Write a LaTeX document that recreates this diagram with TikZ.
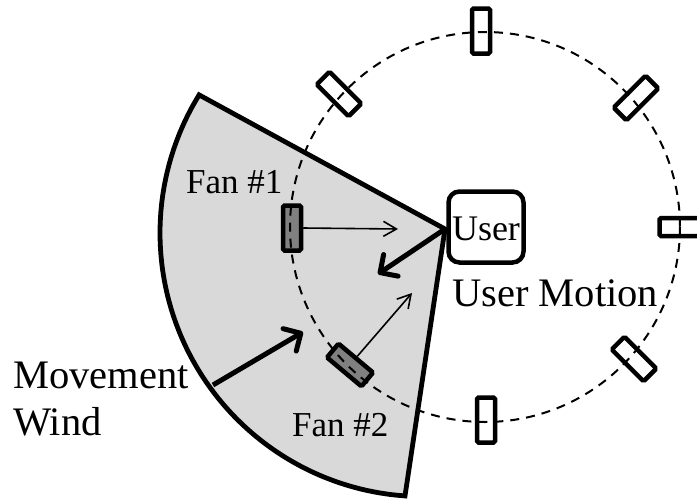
\documentclass[tikz,border=0pt]{standalone}
\usepackage{fontspec}
\setmainfont{Liberation Serif}
\usetikzlibrary{arrows.meta}
\definecolor{sectorgray}{HTML}{D9D9D9}
\definecolor{fangray}{HTML}{808080}
\tikzset{
  fan/.style={draw=black,line width=4.5pt,fill=white,rounded corners=1.5pt,minimum width=45pt,minimum height=18pt,inner sep=0pt},
  activefan/.style={fan,fill=fangray},
  thinarrow/.style={line width=1.6pt,-{Straight Barb[length=13pt,width=15pt,line width=1.6pt]}},
  thickarrow/.style={line width=5pt,-{Straight Barb[length=13pt,width=26pt,line width=5pt,round]}},
  label/.style={inner sep=0pt,anchor=base west,text=black}
}
\begin{document}
\begin{tikzpicture}[x=1pt,y=-1pt]
\useasboundingbox (0,0) rectangle (697,499);
\clip (0,0) rectangle (697,499);
\coordinate (apex) at (445,229);
\draw[line width=4.8pt,fill=sectorgray,line join=miter]
  (apex) -- plot[smooth,domain=211.6:94.05,samples=40] ({423.6+263.6*cos(\x)},{233+263.6*sin(\x)}) -- cycle;
\node[fan,rotate=90] (ftop) at (481,31) {};
\node[fan,rotate=45] (fne) at (636,98) {};
\node[fan] (fright) at (682,227) {};
\node[fan,rotate=-45] (fse) at (634,359) {};
\node[fan,rotate=90] (fbot) at (486,420) {};
\node[activefan,rotate=-40] (ftwo) at (350,365) {};
\node[activefan,rotate=90] (fone) at (292,228) {};
\node[fan,rotate=-45] (fnw) at (339,94) {};
\draw[line width=2pt,dash pattern=on 9pt off 7pt] (485,227) circle[radius=195];
\node[draw,line width=4.5pt,fill=white,rounded corners=11pt,minimum width=75pt,minimum height=71pt,inner sep=0pt] (user) at (486,227) {};
\node[inner sep=0pt,font=\fontsize{36}{36}\selectfont] (usertext) at (486,229) {User};
\node[label,font=\fontsize{40.5}{40}\selectfont] (motion) at (452,306) {User Motion};
\node[label,font=\fontsize{35}{35}\selectfont] (fan1) at (186,193) {Fan \#1};
\node[label,font=\fontsize{35}{35}\selectfont] (fan2) at (292,436) {Fan \#2};
\node[label,font=\fontsize{40.5}{40}\selectfont] (mov) at (13,388) {Movement};
\node[label,font=\fontsize{40.5}{40}\selectfont] (wind) at (13,435) {Wind};
\coordinate (t1) at (398,229);
\coordinate (t2) at (412,293);
\coordinate (t3) at (378,274);
\coordinate (w0) at (213,385);
\coordinate (w1) at (303,332);
\draw[thinarrow] (fone.south) -- (t1);
\draw[thinarrow] (ftwo.north) -- (t2);
\draw[thickarrow] (apex) -- (t3);
\draw[thickarrow] (w0) -- (w1);
\end{tikzpicture}
\end{document}
